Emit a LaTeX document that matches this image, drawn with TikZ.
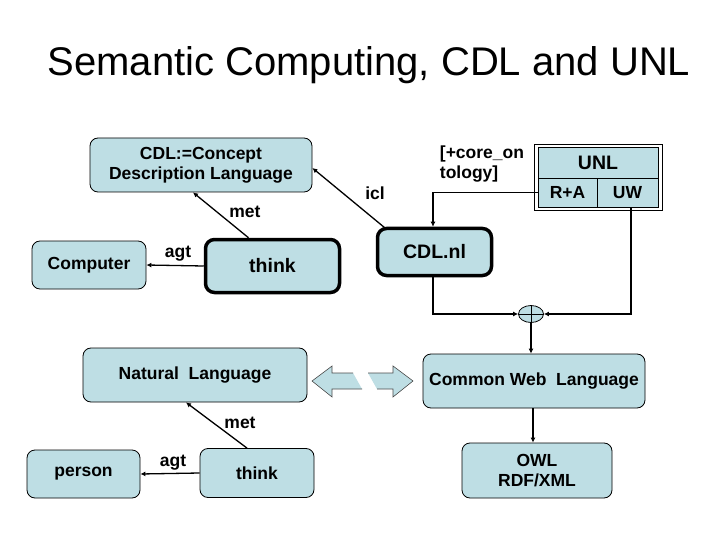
\documentclass[tikz,border=0pt]{standalone}
\usepackage{fontspec}
\setmainfont{Liberation Sans}
\usetikzlibrary{arrows.meta,shapes.geometric}
\definecolor{boxfill}{RGB}{190,222,228}
\begin{document}
\begin{tikzpicture}[x=1pt,y=-1pt,
  lbl/.style={font=\fontsize{17.5}{20}\selectfont\bfseries, inner sep=0pt},
  box/.style={draw, fill=boxfill, rounded corners=8pt, line width=0.8pt, align=center, lbl},
  thickbox/.style={draw, fill=boxfill, rounded corners=9pt, line width=3.5pt, align=center, lbl},
  arr/.style={line width=1.3pt, -{Latex[length=5pt,width=5pt]}},
  conn/.style={line width=1pt}
]
\useasboundingbox (0,0) rectangle (720,540);
\fill[white] (0,0) rectangle (720,540);

\node[font=\fontsize{40}{44}\selectfont] (title) at (369,65) {Semantic Computing, CDL and UNL};

% top semantic network
\node[box, minimum width=222pt, minimum height=54pt] (cdl) at (201,165) {CDL:=Concept\\Description Language};
\node[box, minimum width=114pt, minimum height=48pt] (comp) at (89,265) {Computer};
\node[thickbox, minimum width=134pt, minimum height=53pt, font=\fontsize{19.5}{22}\selectfont\bfseries] (think1) at (272.5,266) {think};
\node[thickbox, minimum width=114pt, minimum height=47pt, font=\fontsize{19.5}{22}\selectfont\bfseries] (cdlnl) at (434.5,252) {CDL.nl};

\draw[arr] ([xshift=-24pt]think1.north) -- ([xshift=-8pt]cdl.south);
\node[lbl] (met1) at (245,212) {met};
\draw[arr] (think1.west) -- (comp.east);
\node[lbl] (agt1) at (178,254) {agt};
\draw[arr] ([xshift=9pt,yshift=-1pt]cdlnl.north west) -- ([yshift=-3pt]cdl.east);
\node[lbl] (icl) at (375,193) {icl};

\node[lbl, align=left] (core) at (482,164) {[+core\_on\\tology]};

% UNL table
\draw[line width=0.6pt] (534,144) rectangle (662,210);
\node[draw, fill=boxfill, line width=0.6pt, minimum width=120pt, minimum height=31pt, lbl, font=\fontsize{19.5}{22}\selectfont\bfseries] (unl) at (598,162.5) {UNL};
\node[draw, fill=boxfill, line width=0.6pt, minimum width=59pt, minimum height=29pt, lbl] (ra) at (567.5,192.5) {R+A};
\node[draw, fill=boxfill, line width=0.6pt, minimum width=61pt, minimum height=29pt, lbl] (uw) at (627.5,192.5) {UW};

% merging node
\node[draw, fill=boxfill, ellipse, line width=0.8pt, minimum width=25pt, minimum height=17pt, inner sep=0pt] (circ) at (531,314) {};
\draw[line width=0.8pt] (circ.north) -- (circ.south) (circ.west) -- (circ.east);

\draw[arr] (ra.west) -| ([xshift=-1.5pt]cdlnl.north);
\draw[arr] ([xshift=-1.5pt]cdlnl.south) |- (circ.west);
\draw[arr] ([xshift=3.5pt]uw.south) |- (circ.east);

\node[box, minimum width=222pt, minimum height=54pt] (cwl) at (534,381) {Common Web\ \ Language};
\draw[arr] (circ.south) -- (circ.south |- cwl.north);

\node[box, minimum width=150pt, minimum height=55pt] (owl) at (537,470.5) {OWL\\RDF/XML};
\draw[arr] ([xshift=-1pt]cwl.south) -- ([xshift=-4pt]owl.north);

\node[box, minimum width=224pt, minimum height=54pt] (nl) at (195,375) {Natural\ \ Language};

% block double arrow
\begin{scope}[fill=boxfill, draw=black!70, line width=0.6pt]
  \fill (312,381) -- (332,366) -- (332,373) -- (353,373) -- (362,389) -- (332,389) -- (332,397) -- cycle;
  \draw (353,373) -- (332,373) -- (332,366) -- (312,381) -- (332,397) -- (332,389) -- (362,389);
  \fill (413,381) -- (393,366) -- (393,373) -- (368,373) -- (377,389) -- (393,389) -- (393,397) -- cycle;
  \draw (368,373) -- (393,373) -- (393,366) -- (413,381) -- (393,397) -- (393,389) -- (377,389);
\end{scope}
\coordinate (dbl) at (362,381);

% bottom semantic network
\node[box, minimum width=113pt, minimum height=48pt] (person) at (83.5,474) {person};
\node[box, minimum width=114pt, minimum height=49pt] (think2) at (257,473) {think};
\draw[arr] ([xshift=-10pt]think2.north) -- ([xshift=-9pt]nl.south);
\node[lbl] (met2) at (240,423) {met};
\draw[arr] (think2.west) -- (person.east);
\node[lbl] (agt2) at (173,463) {agt};
\end{tikzpicture}
\end{document}
